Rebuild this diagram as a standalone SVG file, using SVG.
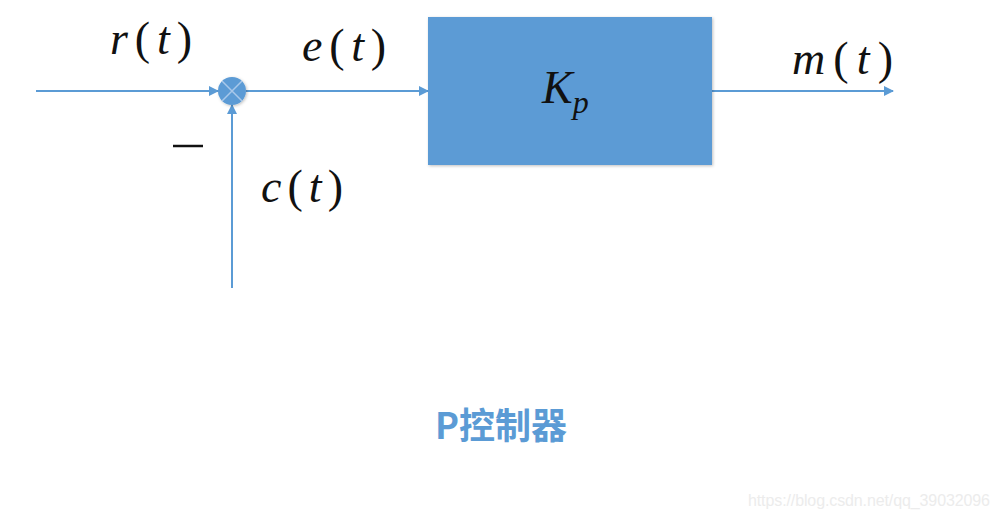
<svg xmlns="http://www.w3.org/2000/svg" width="1000" height="518" viewBox="0 0 1000 518">
<style>
.ln{stroke:#5b9bd5;stroke-width:2;fill:none}
.m{font-family:"Liberation Serif","DejaVu Serif",serif;font-style:italic;font-size:46px;fill:#111}
.p{font-style:normal}
</style>
<defs>
<marker id="ah" markerWidth="10" markerHeight="10" refX="9" refY="5" orient="auto" markerUnits="userSpaceOnUse">
<path d="M0,0 L10,5 L0,10 Z" fill="#5b9bd5"/>
</marker>
<filter id="sh" x="-10%" y="-10%" width="120%" height="120%"><feDropShadow dx="1" dy="1" stdDeviation="1.5" flood-color="#000" flood-opacity="0.25"/></filter>
</defs>
<rect width="1000" height="518" fill="#fff"/>
<g id="connectors">
<line class="ln" x1="36" y1="91" x2="218" y2="91" marker-end="url(#ah)"/>
<line class="ln" x1="232" y1="288" x2="232" y2="105" marker-end="url(#ah)"/>
<line class="ln" x1="246" y1="91" x2="428" y2="91" marker-end="url(#ah)"/>
<line class="ln" x1="712" y1="91" x2="893" y2="91" marker-end="url(#ah)"/>
</g>
<g id="sum">
<circle cx="232" cy="91" r="14" fill="#5b9bd5" filter="url(#sh)"/>
<path d="M222,81 L242,101 M242,81 L222,101" stroke="#a9c8ea" stroke-width="1.5"/>
</g>
<g id="kp">
<rect x="428" y="17" width="284" height="148" fill="#5b9bd5" filter="url(#sh)"/>
<text class="m" x="542" y="103">K<tspan font-size="32" dy="10">p</tspan></text>
</g>
<g id="labels">
<text class="m" x="110" y="54" textLength="82" lengthAdjust="spacing">r<tspan class="p">(</tspan>t<tspan class="p">)</tspan></text>
<text class="m" x="302" y="61" textLength="84" lengthAdjust="spacing">e<tspan class="p">(</tspan>t<tspan class="p">)</tspan></text>
<text class="m" x="792" y="74" textLength="101" lengthAdjust="spacing">m<tspan class="p">(</tspan>t<tspan class="p">)</tspan></text>
<text class="m" x="261" y="202" textLength="82" lengthAdjust="spacing">c<tspan class="p">(</tspan>t<tspan class="p">)</tspan></text>
<line x1="173" y1="146" x2="203" y2="146" stroke="#111" stroke-width="2.5"/>
<text x="435" y="439" font-family="'Noto Sans CJK SC','Noto Sans',sans-serif" font-weight="bold" font-size="36" fill="#5b9bd5">P控制器</text>
<text x="748" y="506" font-family="'Liberation Sans',sans-serif" font-size="16" fill="#ececec" textLength="242">https://blog.csdn.net/qq_39032096</text>
</g>
</svg>
